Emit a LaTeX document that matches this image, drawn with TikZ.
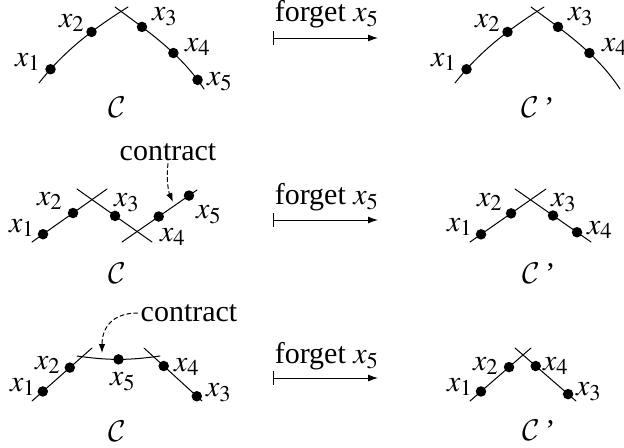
\documentclass[tikz,border=0pt]{standalone}
\usepackage{mathptmx}
\usepackage[no-math]{fontspec}
\setmainfont{Liberation Serif}
\DeclareMathAlphabet{\mathcal}{OMS}{cmsy}{m}{n}
\usetikzlibrary{arrows.meta}
\begin{document}
\begin{tikzpicture}[x=0.4pt, y=-0.4pt, line cap=round, line join=round,
  font=\fontsize{12}{14}\selectfont,
  ptdot/.style={circle, fill, inner sep=0pt, minimum size=4.2pt},
  forgetarrow/.style={{Bar[width=5.6pt]}-{Latex[length=4pt, width=2.8pt]}},
  contractarrow/.style={-{Latex[length=3.6pt, width=2.6pt]}, dash pattern=on 1.6pt off 1.2pt}]
  \useasboundingbox (0,0) rectangle (624,447);

  % Row 1, left: two smooth branches, five marked points
  \draw (39,83) .. controls (64,51) and (93,29) .. (128,7)
    node[ptdot, pos=0.15] (a1) {} node[ptdot, pos=0.63] (a2) {};
  \draw (115,7) .. controls (149,32) and (181,54) .. (204,89)
    node[ptdot, pos=0.27] (a3) {} node[ptdot, pos=0.61] (a4) {}
    node[ptdot, pos=0.91] (a5) {};
  \node (la1) at (28,62) {$x_1$};
  \node (la2) at (72,23) {$x_2$};
  \node (la3) at (165,17) {$x_3$};
  \node (la4) at (198,47) {$x_4$};
  \node (la5) at (220,82) {$x_5$};
  \node (ca) at (117,107) {$\mathcal{C}$};

  % Row 1, forget map
  \coordinate (fa1) at (273,38);
  \coordinate (fa2) at (378,38);
  \draw[forgetarrow] (fa1) -- (fa2);
  \node (fta) at (327,14) {forget $x_5$};

  % Row 1, right: same curve without x5
  \begin{scope}[shift={(416,0)}]
    \draw (39,83) .. controls (64,51) and (93,29) .. (128,7)
      node[ptdot, pos=0.15] (b1) {} node[ptdot, pos=0.63] (b2) {};
    \draw (115,7) .. controls (149,32) and (181,54) .. (204,89)
      node[ptdot, pos=0.27] (b3) {} node[ptdot, pos=0.61] (b4) {};
    \node (lb1) at (28,62) {$x_1$};
    \node (lb2) at (72,23) {$x_2$};
    \node (lb3) at (165,17) {$x_3$};
    \node (lb4) at (199,47) {$x_4$};
    \node (cb) at (122,107) {$\mathcal{C}$\,'};
  \end{scope}

  % Row 2, left: chain of three lines
  \draw (32,242) -- (107,189)
    node[ptdot, pos=0.147] (c1) {} node[ptdot, pos=0.547] (c2) {};
  \draw (77,189) -- (152,242)
    node[ptdot, pos=0.507] (c3) {};
  \draw (122,242) -- (197,190)
    node[ptdot, pos=0.49] (c4) {} node[ptdot, pos=0.893] (c5) {};
  \node (lc1) at (22,228) {$x_1$};
  \node (lc2) at (50,201) {$x_2$};
  \node (lc3) at (127,203) {$x_3$};
  \node (lc4) at (173,237) {$x_4$};
  \node (lc5) at (209,215) {$x_5$};
  \node (cc) at (117,273) {$\mathcal{C}$};
  \node[inner sep=1pt] (ctra) at (168,152) {contract};
  \coordinate (ta) at (173,202);
  \draw[contractarrow] (ctra.south) .. controls (166,182) and (169,193) .. (ta);

  % Row 2, forget map
  \coordinate (fb1) at (273,220);
  \coordinate (fb2) at (378,220);
  \draw[forgetarrow] (fb1) -- (fb2);
  \node (ftb) at (327,197) {forget $x_5$};

  % Row 2, right: x4 moves onto the middle line
  \draw (470,242) -- (546,189)
    node[ptdot, pos=0.145] (d1) {} node[ptdot, pos=0.54] (d2) {};
  \draw (515,189) -- (591,242)
    node[ptdot, pos=0.5] (d3) {} node[ptdot, pos=0.816] (d4) {};
  \node (ld1) at (460,227) {$x_1$};
  \node (ld2) at (490,202) {$x_2$};
  \node (ld3) at (564,203) {$x_3$};
  \node (ld4) at (600,230) {$x_4$};
  \node (cd) at (539,273) {$\mathcal{C}$\,'};

  % Row 3, left: middle component carries x5 only
  \draw (32,401) -- (92,348)
    node[ptdot, pos=0.18] (e1) {} node[ptdot, pos=0.63] (e2) {};
  \draw (77,356) to[bend right=8] node[ptdot, pos=0.5] (e5) {} (160,356);
  \draw (144,348) -- (202,401)
    node[ptdot, pos=0.34] (e4) {} node[ptdot, pos=0.91] (e3) {};
  \node (le1) at (23,387) {$x_1$};
  \node (le2) at (48,365) {$x_2$};
  \node (le5) at (123,382) {$x_5$};
  \node (le4) at (187,367) {$x_4$};
  \node (le3) at (219,393) {$x_3$};
  \node (ce) at (117,431) {$\mathcal{C}$};
  \node[inner sep=1pt] (ctrb) at (189,313) {contract};
  \coordinate (tb) at (102,353);
  \draw[contractarrow] (ctrb.west) .. controls (112,313) and (102,328) .. (tb);

  % Row 3, forget map
  \coordinate (fc1) at (273,378);
  \coordinate (fc2) at (378,378);
  \draw[forgetarrow] (fc1) -- (fc2);
  \node (ftc) at (327,356) {forget $x_5$};

  % Row 3, right: the two outer lines meet
  \draw (470,401) -- (531,348)
    node[ptdot, pos=0.18] (g1) {} node[ptdot, pos=0.64] (g2) {};
  \draw (515,348) -- (576,401)
    node[ptdot, pos=0.34] (g4) {} node[ptdot, pos=0.87] (g3) {};
  \node (lg1) at (460,387) {$x_1$};
  \node (lg2) at (486,366) {$x_2$};
  \node (lg4) at (556,366) {$x_4$};
  \node (lg3) at (589,392) {$x_3$};
  \node (cg) at (539,430) {$\mathcal{C}$\,'};
\end{tikzpicture}
\end{document}
